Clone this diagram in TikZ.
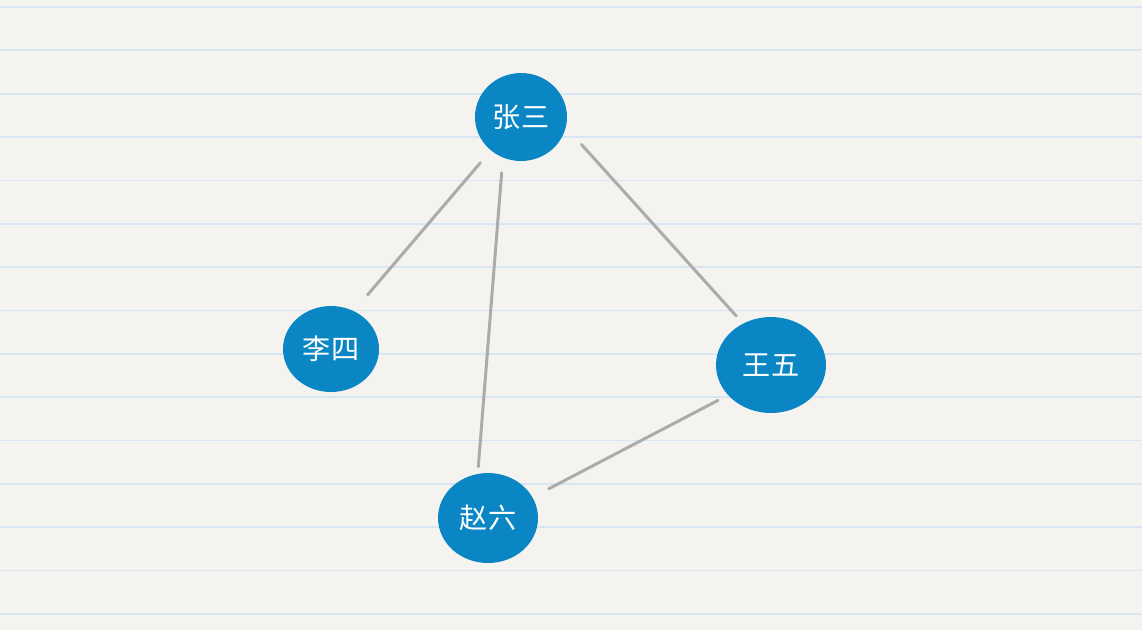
\documentclass[tikz,border=0pt]{standalone}
\usepackage{fontspec}
\usepackage{xcolor}
\usetikzlibrary{shapes.geometric}
\newfontfamily\cjk{Noto Sans CJK SC}
\definecolor{paper}{HTML}{F4F3EF}
\definecolor{rule}{HTML}{D8E5F2}
\definecolor{dotblue}{HTML}{0A86C4}
\definecolor{linkgray}{HTML}{ABABAB}

\begin{document}
\begin{tikzpicture}[x=0.02cm, y=-0.02cm,
        person/.style={ellipse, fill=dotblue, text=white, inner sep=0pt, font=\cjk\fontsize{16}{19}\selectfont},
        link/.style={linkgray, line width=1.7pt, line cap=round}]
        \fill[paper] (0, 0) rectangle (1142, 630);
        \useasboundingbox (0, 0) rectangle (1142, 630);
        \foreach \k in {0,...,14} \draw[rule, line width=1pt] (0, 7+43.35*\k) -- (1142, 7+43.35*\k);
        \node[person, minimum width=1.84cm, minimum height=1.76cm] (zs) at (521, 117) {张三};
        \node[person, minimum width=1.92cm, minimum height=1.72cm] (ls) at (331, 349) {李四};
        \node[person, minimum width=2.2cm, minimum height=1.92cm] (ww) at (771, 365) {王五};
        \node[person, minimum width=2.0cm, minimum height=1.8cm] (zl) at (488, 518) {赵六};
        \draw[link, shorten <=0.32cm, shorten >=0.42cm] (zs.228) -- (ls.59);
        \draw[link, shorten <=0.3cm, shorten >=0.14cm] (zs.246) -- (zl.103);
        \draw[link, shorten <=0.46cm, shorten >=0.2cm] (zs.347) -- (ww.124);
        \draw[link, shorten <=0.22cm, shorten >=0.36cm] (ww.215) -- (zl.25);
    \end{tikzpicture}
\end{document}
